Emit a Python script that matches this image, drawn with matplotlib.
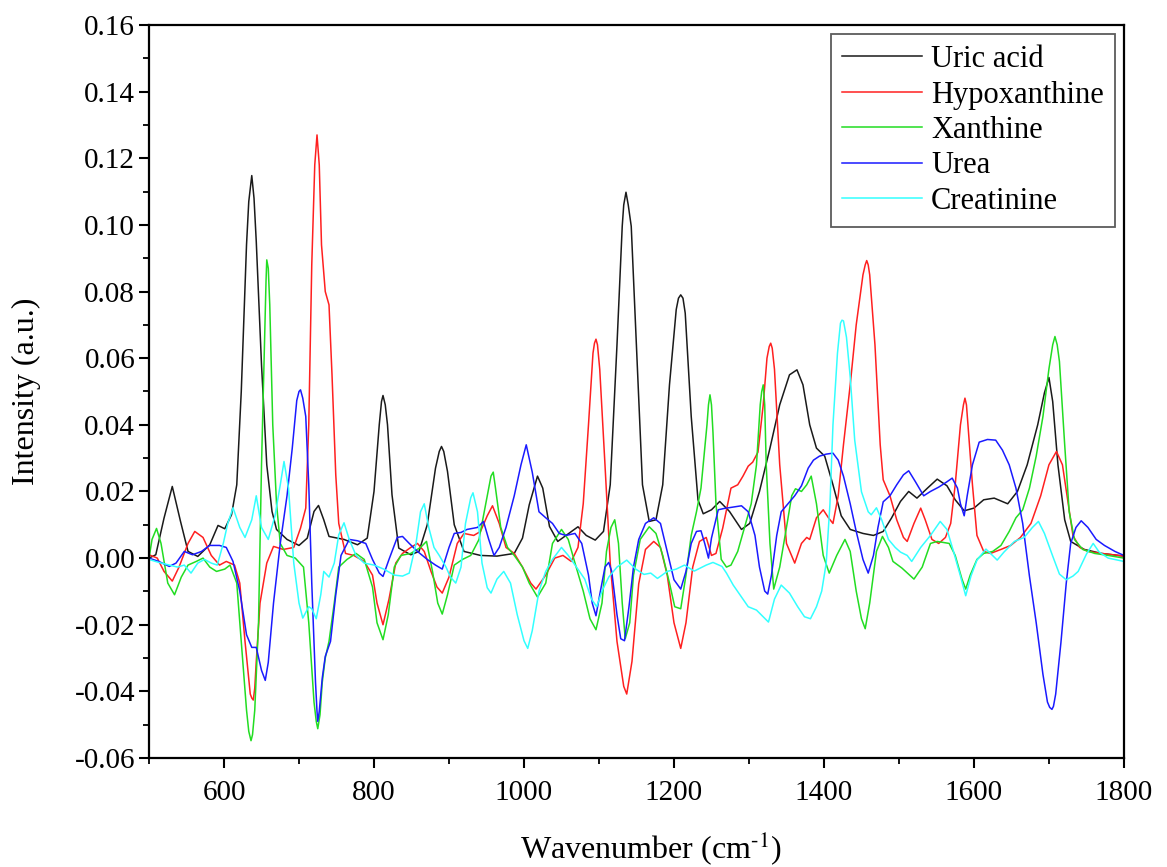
import matplotlib
matplotlib.use("Agg")
import matplotlib.pyplot as plt
from matplotlib.ticker import MultipleLocator, FormatStrFormatter

# Raman difference spectra
uric_wn = [500, 509, 520, 531, 542, 552, 565, 581, 592, 601, 610, 617, 623, 630, 633,
           637, 640, 643, 650, 657, 664, 670, 684, 700, 711, 720, 726, 733, 740, 760,
           778, 791, 800, 807, 810, 812, 815, 818, 824, 833, 849, 860, 871, 882, 887,
           890, 893, 898, 907, 920, 942, 964, 987, 998, 1007, 1018, 1025, 1034, 1045,
           1056, 1072, 1083, 1095, 1106, 1115, 1124, 1131, 1133, 1136, 1139, 1143, 1151,
           1158, 1167, 1176, 1185, 1194, 1203, 1206, 1209, 1212, 1215, 1223, 1232, 1239,
           1250, 1261, 1274, 1290, 1301, 1314, 1328, 1341, 1354, 1364, 1372, 1381, 1390,
           1401, 1412, 1423, 1435, 1452, 1466, 1479, 1490, 1502, 1513, 1524, 1538, 1551,
           1564, 1575, 1587, 1600, 1613, 1627, 1645, 1658, 1671, 1685, 1694, 1700, 1705,
           1712, 1721, 1729, 1747, 1770, 1800]
uric_int = [0.000, 0.001, 0.012, 0.0215, 0.011, 0.002, 0.0005, 0.004, 0.0098, 0.0088,
            0.013, 0.022, 0.050, 0.094, 0.107, 0.1148, 0.108, 0.095, 0.058, 0.028, 0.014,
            0.0086, 0.0056, 0.0038, 0.006, 0.014, 0.0158, 0.0115, 0.0065, 0.0056, 0.0040,
            0.0060, 0.020, 0.040, 0.047, 0.0488, 0.046, 0.040, 0.019, 0.003, 0.0010,
            0.002, 0.010, 0.027, 0.032, 0.0335, 0.032, 0.026, 0.010, 0.002, 0.0008,
            0.0006, 0.0014, 0.006, 0.016, 0.0246, 0.021, 0.0095, 0.005, 0.0068, 0.0094,
            0.0068, 0.0054, 0.008, 0.022, 0.064, 0.0996, 0.106, 0.1098, 0.106, 0.0996,
            0.058, 0.022, 0.011, 0.0115, 0.022, 0.052, 0.0746, 0.078, 0.0790, 0.078,
            0.0735, 0.0425, 0.0175, 0.0133, 0.0145, 0.0170, 0.014, 0.0086, 0.0104, 0.020,
            0.033, 0.046, 0.055, 0.0565, 0.052, 0.040, 0.033, 0.0306, 0.022, 0.0127,
            0.0086, 0.0074, 0.0068, 0.008, 0.012, 0.017, 0.020, 0.018, 0.021, 0.0237,
            0.0217, 0.0175, 0.0142, 0.015, 0.0175, 0.018, 0.0163, 0.020, 0.028, 0.040,
            0.0496, 0.0542, 0.047, 0.028, 0.0115, 0.005, 0.0026, 0.0014, 0.0006]

hypo_wn = [500, 511, 520, 531, 540, 552, 561, 572, 583, 594, 603, 614, 621, 628, 635,
           637, 639, 641, 643, 648, 657, 666, 679, 693, 702, 709, 713, 717, 721, 724,
           727, 730, 735, 740, 744, 749, 753, 762, 773, 787, 798, 804, 812, 820, 829,
           838, 849, 858, 867, 876, 884, 891, 900, 911, 920, 933, 942, 951, 958, 967,
           976, 987, 998, 1009, 1016, 1029, 1041, 1052, 1063, 1072, 1079, 1086, 1092,
           1094, 1096, 1098, 1101, 1108, 1115, 1124, 1133, 1137, 1144, 1153, 1162, 1173,
           1182, 1191, 1200, 1209, 1216, 1225, 1234, 1243, 1250, 1256, 1265, 1276, 1285,
           1292, 1299, 1305, 1312, 1319, 1324, 1327, 1329, 1331, 1334, 1341, 1350, 1361,
           1370, 1377, 1381, 1390, 1399, 1406, 1412, 1419, 1426, 1435, 1443, 1452, 1455,
           1457, 1459, 1461, 1468, 1475, 1479, 1488, 1497, 1506, 1511, 1520, 1529, 1535,
           1544, 1553, 1562, 1569, 1575, 1582, 1586, 1588, 1590, 1592, 1598, 1604, 1613,
           1622, 1636, 1649, 1662, 1676, 1689, 1700, 1710, 1718, 1725, 1732, 1741, 1752,
           1770, 1800]
hypo_int = [0.001, 0.0, -0.004, -0.0069, -0.0027, 0.0044, 0.008, 0.0062, 0.0008, -0.0021,
            -0.001, -0.0021, -0.0075, -0.025, -0.0408, -0.042, -0.0426, -0.039, -0.031,
            -0.0135, -0.0015, 0.0035, 0.0026, 0.0032, 0.009, 0.015, 0.040, 0.088, 0.118,
            0.127, 0.118, 0.094, 0.080, 0.076, 0.055, 0.025, 0.0104, 0.0014, 0.0008,
            -0.001, -0.0051, -0.0135, -0.020, -0.0123, -0.0015, 0.0014, 0.0032, 0.0044,
            0.002, -0.004, -0.0087, -0.0105, -0.0057, 0.0044, 0.0074, 0.0068, 0.008,
            0.0127, 0.0157, 0.0104, 0.0032, 0.0014, -0.0027, -0.0075, -0.0093, -0.0051,
            0.0, 0.0008, -0.001, 0.0032, 0.0163, 0.040, 0.0615, 0.0645, 0.0657, 0.064,
            0.0567, 0.028, -0.0015, -0.025, -0.0385, -0.0408, -0.031, -0.0077, 0.0026,
            0.005, 0.0032, -0.0051, -0.0194, -0.0271, -0.0194, -0.0027, 0.005, 0.0062,
            0.0008, 0.0014, 0.009, 0.021, 0.022, 0.0246, 0.0276, 0.0288, 0.0318, 0.046,
            0.060, 0.0635, 0.0645, 0.063, 0.0567, 0.028, 0.0044, -0.0015, 0.0044, 0.0062,
            0.0056, 0.0121, 0.0145, 0.0121, 0.0104, 0.0187, 0.034, 0.052, 0.070, 0.085,
            0.088, 0.0893, 0.088, 0.085, 0.064, 0.034, 0.0235, 0.0187, 0.0115, 0.0062,
            0.005, 0.0104, 0.015, 0.0115, 0.0056, 0.0044, 0.0062, 0.0104, 0.022, 0.040,
            0.046, 0.048, 0.046, 0.040, 0.022, 0.0068, 0.002, 0.0014, 0.0026, 0.0038,
            0.0062, 0.0104, 0.0187, 0.028, 0.032, 0.028, 0.0175, 0.0068, 0.0032, 0.002,
            0.0014, 0.0006]

xan_wn = [500, 504, 510, 516, 525, 534, 543, 552, 563, 572, 581, 590, 601, 608, 617,
          623, 630, 633, 636, 638, 641, 646, 650, 654, 656, 657, 659, 661, 665, 670,
          675, 684, 695, 706, 713, 720, 723, 725, 728, 731, 735, 740, 747, 753, 764,
          776, 787, 798, 804, 812, 819, 827, 836, 849, 862, 870, 878, 885, 891, 898,
          907, 918, 929, 940, 949, 956, 959, 962, 969, 978, 987, 998, 1007, 1018, 1029,
          1038, 1050, 1059, 1068, 1079, 1088, 1096, 1104, 1110, 1116, 1121, 1126, 1131,
          1135, 1141, 1146, 1155, 1167, 1176, 1185, 1194, 1201, 1209, 1216, 1223, 1230,
          1236, 1244, 1246, 1248, 1250, 1252, 1256, 1263, 1270, 1276, 1285, 1294, 1303,
          1310, 1315, 1317, 1319, 1321, 1323, 1328, 1333, 1341, 1350, 1357, 1362, 1370,
          1377, 1383, 1390, 1399, 1407, 1417, 1428, 1435, 1443, 1450, 1455, 1461, 1470,
          1478, 1486, 1492, 1504, 1520, 1531, 1542, 1551, 1567, 1575, 1584, 1589, 1595,
          1604, 1613, 1625, 1636, 1647, 1656, 1665, 1674, 1683, 1692, 1700, 1705, 1708,
          1711, 1714, 1721, 1727, 1734, 1745, 1761, 1779, 1800]
xan_int = [0.0, 0.0056, 0.0089, 0.0044, -0.0075, -0.011, -0.0057, -0.0021, -0.001, 0.0,
           -0.0027, -0.004, -0.0033, -0.0021, -0.0075, -0.025, -0.0456, -0.052, -0.0548,
           -0.053, -0.0456, -0.0194, 0.028, 0.064, 0.083, 0.0895, 0.087, 0.076, 0.040,
           0.0163, 0.0044, 0.0008, 0.0, -0.0027, -0.0194, -0.0432, -0.049, -0.0512,
           -0.047, -0.0373, -0.030, -0.025, -0.0135, -0.0027, -0.0004, 0.0014, -0.0004,
           -0.0087, -0.0194, -0.0245, -0.017, -0.0027, 0.0008, 0.0014, 0.0032, 0.005,
           -0.004, -0.0135, -0.0168, -0.011, -0.0021, -0.0004, 0.0008, 0.0056, 0.0163,
           0.0246, 0.0258, 0.021, 0.0092, 0.0032, 0.0008, -0.0027, -0.0075, -0.0117,
           -0.0075, 0.0044, 0.0086, 0.0056, -0.0015, -0.0099, -0.0182, -0.0215, -0.0135,
           0.002, 0.0092, 0.0115, 0.0044, -0.0135, -0.0242, -0.0194, -0.0051, 0.0056,
           0.0094, 0.0074, 0.0008, -0.0075, -0.0146, -0.0152, -0.0051, 0.0068, 0.0139,
           0.021, 0.040, 0.046, 0.049, 0.046, 0.0377, 0.0163, -0.0004, -0.0027, -0.0021,
           0.002, 0.0092, 0.0163, 0.028, 0.046, 0.050, 0.052, 0.046, 0.028, 0.0044,
           -0.0093, -0.0027, 0.0092, 0.0187, 0.0208, 0.020, 0.022, 0.0246, 0.0163, 0.0008,
           -0.0045, 0.0008, 0.0056, 0.002, -0.0099, -0.0182, -0.0212, -0.0135, 0.002,
           0.0065, 0.0032, -0.001, -0.0030, -0.0063, -0.0027, 0.0044, 0.005, 0.0044,
           0.0008, -0.0063, -0.0093, -0.0051, -0.0004, 0.0014, 0.002, 0.0038, 0.008,
           0.0121, 0.0145, 0.021, 0.0306, 0.0425, 0.0568, 0.064, 0.0665, 0.064, 0.059,
           0.034, 0.0139, 0.0056, 0.0026, 0.0014, 0.0008, 0.0]

urea_wn = [500, 513, 527, 536, 547, 558, 570, 581, 594, 603, 612, 621, 630, 637, 643,
           650, 655, 659, 666, 675, 684, 691, 697, 700, 702, 705, 709, 713, 717, 722,
           724, 725, 727, 731, 735, 742, 749, 756, 767, 778, 789, 798, 807, 812, 820,
           831, 838, 847, 858, 871, 882, 891, 900, 907, 916, 924, 938, 946, 953, 960,
           967, 976, 987, 996, 1003, 1011, 1020, 1029, 1038, 1047, 1056, 1068, 1077,
           1086, 1091, 1096, 1101, 1108, 1113, 1117, 1124, 1129, 1134, 1140, 1146, 1153,
           1162, 1173, 1182, 1191, 1200, 1209, 1216, 1223, 1230, 1236, 1241, 1246, 1250,
           1259, 1267, 1279, 1290, 1299, 1308, 1314, 1321, 1325, 1330, 1337, 1343, 1352,
           1361, 1370, 1379, 1386, 1394, 1403, 1412, 1419, 1426, 1435, 1443, 1452, 1459,
           1466, 1472, 1479, 1488, 1497, 1506, 1513, 1522, 1533, 1542, 1553, 1564, 1571,
           1578, 1582, 1587, 1591, 1598, 1607, 1618, 1629, 1638, 1647, 1656, 1665, 1674,
           1683, 1692, 1698, 1701, 1704, 1706, 1709, 1716, 1723, 1729, 1736, 1743, 1752,
           1763, 1774, 1788, 1800]
urea_int = [0.0, -0.001, -0.0025, -0.0015, 0.002, 0.001, 0.002, 0.0038, 0.0038, 0.0032,
            -0.001, -0.0099, -0.023, -0.0268, -0.0268, -0.0337, -0.0367, -0.0313, -0.0135,
            0.0044, 0.0187, 0.033, 0.0473, 0.050, 0.0505, 0.048, 0.0425, 0.022, -0.0075,
            -0.0373, -0.046, -0.049, -0.046, -0.036, -0.0295, -0.025, -0.011, 0.0008,
            0.0056, 0.0052, 0.0044, -0.0004, -0.0045, -0.0055, -0.0004, 0.0062, 0.0065,
            0.0044, 0.002, -0.0004, -0.0021, -0.0033, 0.0032, 0.0074, 0.0077, 0.0086,
            0.0092, 0.011, 0.0056, 0.0008, 0.0032, 0.0092, 0.0187, 0.028, 0.034, 0.0258,
            0.0139, 0.0121, 0.0104, 0.0074, 0.0068, 0.0074, 0.0044, -0.0051, -0.0135,
            -0.0173, -0.011, -0.0027, -0.0013, -0.004, -0.017, -0.0242, -0.0248, -0.0146,
            -0.0027, 0.0056, 0.0104, 0.0121, 0.0104, 0.002, -0.0065, -0.0093, -0.004,
            0.0044, 0.008, 0.0082, 0.0044, 0.0, 0.006, 0.0145, 0.0149, 0.0153, 0.0157,
            0.0139, 0.0068, -0.0027, -0.0099, -0.0108, -0.0051, 0.0068, 0.0139, 0.0163,
            0.0187, 0.0217, 0.027, 0.0294, 0.0306, 0.0312, 0.0315, 0.0294, 0.0246, 0.0163,
            0.008, -0.0004, -0.0045, 0.0008, 0.0092, 0.0169, 0.0187, 0.022, 0.025, 0.0262,
            0.0229, 0.0187, 0.020, 0.0213, 0.0229, 0.024, 0.021, 0.0163, 0.0127, 0.0187,
            0.028, 0.0348, 0.0356, 0.0354, 0.0324, 0.028, 0.021, 0.0104, -0.0054, -0.0194,
            -0.0349, -0.0432, -0.0448, -0.0454, -0.0445, -0.0408, -0.0253, -0.0077,
            0.0044, 0.0092, 0.0112, 0.0092, 0.0056, 0.0038, 0.002, 0.0008]

creat_wn = [500, 513, 527, 538, 547, 556, 565, 574, 583, 591, 599, 605, 612, 621, 628,
            637, 643, 650, 659, 668, 675, 680, 686, 693, 700, 705, 713, 717, 723, 729,
            733, 740, 747, 753, 760, 767, 776, 787, 800, 813, 827, 838, 847, 856, 862,
            867, 873, 880, 887, 896, 902, 909, 916, 922, 929, 932, 938, 944, 951, 956,
            964, 973, 982, 991, 1000, 1005, 1011, 1020, 1029, 1038, 1050, 1059, 1070,
            1081, 1090, 1097, 1104, 1113, 1124, 1137, 1149, 1160, 1169, 1178, 1191, 1203,
            1214, 1227, 1243, 1252, 1264, 1270, 1279, 1290, 1299, 1310, 1319, 1326, 1334,
            1343, 1354, 1365, 1374, 1382, 1390, 1397, 1403, 1408, 1412, 1418, 1422, 1424,
            1426, 1430, 1435, 1441, 1450, 1459, 1463, 1470, 1477, 1486, 1495, 1502, 1511,
            1517, 1529, 1542, 1555, 1564, 1573, 1582, 1589, 1596, 1604, 1616, 1622, 1631,
            1640, 1654, 1667, 1678, 1686, 1694, 1705, 1714, 1723, 1732, 1739, 1750, 1759,
            1767, 1779, 1800]
creat_int = [-0.0004, -0.0013, -0.0021, -0.0027, -0.0021, -0.0045, -0.0015, -0.0004,
             -0.0015, -0.0021, 0.0044, 0.0104, 0.0151, 0.0092, 0.0062, 0.0115, 0.0187,
             0.0092, 0.0056, 0.0127, 0.022, 0.029, 0.021, -0.0015, -0.0135, -0.018,
             -0.0146, -0.0152, -0.0182, -0.011, -0.004, -0.0057, -0.0015, 0.0070, 0.0106,
             0.0056, 0.0008, -0.0015, -0.0021, -0.0033, -0.0051, -0.0054, -0.0045, 0.0044,
             0.0139, 0.0163, 0.0092, 0.0032, 0.0008, -0.0027, -0.0057, -0.0075, -0.0027,
             0.0104, 0.0181, 0.0196, 0.0139, -0.0015, -0.0089, -0.0105, -0.0063, -0.004,
             -0.0075, -0.017, -0.0248, -0.0271, -0.0218, -0.0099, -0.004, -0.0004, 0.0032,
             0.0008, -0.0027, -0.0063, -0.0123, -0.0146, -0.0099, -0.0057, -0.0027,
             -0.0006, -0.0033, -0.0049, -0.0045, -0.0061, -0.004, -0.0033, -0.0021,
             -0.0039, -0.0021, -0.0013, -0.0025, -0.0045, -0.0081, -0.0117, -0.0146,
             -0.0156, -0.0176, -0.0192, -0.0123, -0.0081, -0.0105, -0.0146, -0.0176,
             -0.0182, -0.0146, -0.0099, -0.0015, 0.0163, 0.040, 0.0615, 0.0705, 0.0714,
             0.0712, 0.0663, 0.0544, 0.0354, 0.0199, 0.0139, 0.013, 0.0151, 0.0115, 0.0056,
             0.0032, 0.0018, 0.0008, -0.001, 0.0032, 0.0068, 0.011, 0.0086, 0.0018,
             -0.0054, -0.0113, -0.0054, -0.0006, 0.0027, 0.0014, -0.0006, 0.0018, 0.005,
             0.0062, 0.0092, 0.011, 0.0074, 0.0006, -0.0048, -0.0065, -0.0054, -0.004,
             0.0012, 0.0044, 0.0018, 0.0, -0.001]

series = [
    ("Uric acid", uric_wn, uric_int, "#1a1a1a"),
    ("Hypoxanthine", hypo_wn, hypo_int, "#ff2020"),
    ("Xanthine", xan_wn, xan_int, "#22dd22"),
    ("Urea", urea_wn, urea_int, "#1a1aff"),
    ("Creatinine", creat_wn, creat_int, "#33ffff"),
]

plt.rcParams["font.family"] = ["Liberation Serif", "DejaVu Serif"]
plt.rcParams["axes.unicode_minus"] = False
plt.rcParams["mathtext.fontset"] = "stix"

fig = plt.figure(figsize=(11.67, 8.67), dpi=100)
ax = fig.add_axes([0.1277, 0.1257, 0.8354, 0.8455])

for name, wn, inten, color in series:
    ax.plot(wn, inten, color=color, linewidth=1.1, label=name,
            solid_joinstyle="round", antialiased=True)

ax.set_xlim(500, 1800)
ax.set_ylim(-0.06, 0.16)

ax.xaxis.set_minor_locator(MultipleLocator(100))
ax.yaxis.set_major_locator(MultipleLocator(0.02))
ax.yaxis.set_minor_locator(MultipleLocator(0.01))
ax.yaxis.set_major_formatter(FormatStrFormatter("%.2f"))

# no label at the 500 end of the x axis
ax.set_xticks([600, 800, 1000, 1200, 1400, 1600, 1800])

for side in ["left", "bottom", "top", "right"]:
    ax.spines[side].set_linewidth(1.6)

ax.tick_params(axis="both", which="major", direction="out", length=7, width=1.5,
               labelsize=21, top=False, right=False)
ax.tick_params(axis="both", which="minor", direction="out", length=4, width=1.3,
               top=False, right=False)
ax.tick_params(axis="x", pad=9)
ax.tick_params(axis="y", pad=3)

ax.set_xlabel("Wavenumber (cm$^{\u2010 1}$)", fontsize=23)
ax.xaxis.set_label_coords(0.515, -0.097)
ax.set_ylabel("Intensity (a.u.)", fontsize=23)
ax.yaxis.set_label_coords(-0.111, 0.5)

leg = ax.legend(loc="upper right", fontsize=22, frameon=True, fancybox=False,
                edgecolor="#333333", handlelength=2.6, handletextpad=0.3,
                borderpad=0.36, labelspacing=0.21, borderaxespad=0.3)
leg.get_frame().set_linewidth(1.3)

fig.savefig("out.png", dpi=100)
